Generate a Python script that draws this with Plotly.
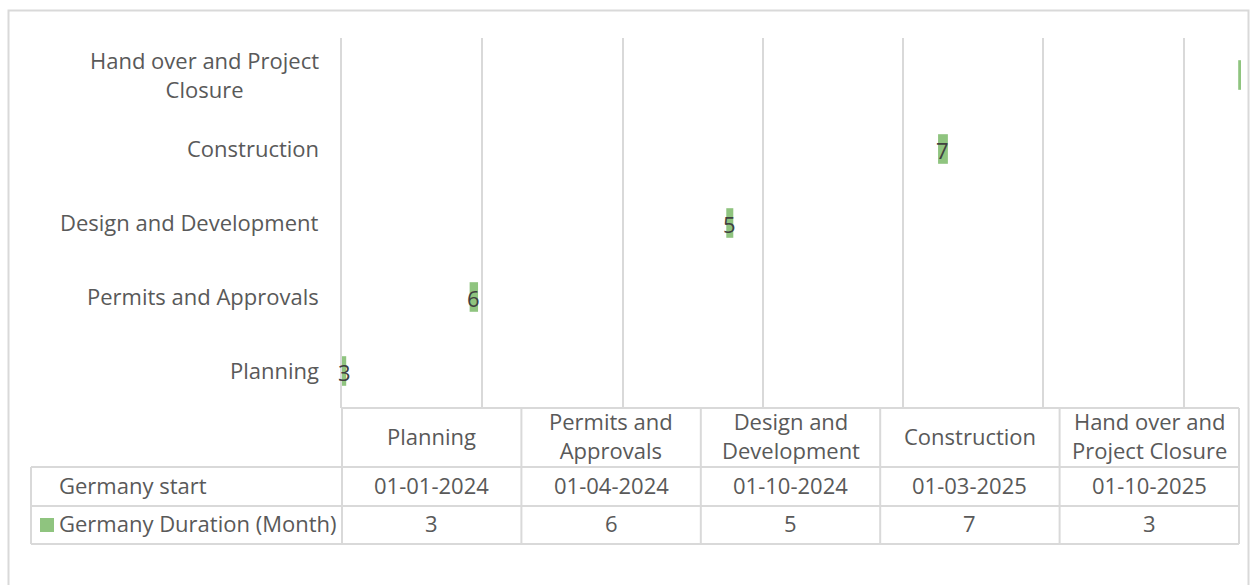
import textwrap
import pandas as pd
import plotly.graph_objects as go

# ---------------- data ----------------
tasks = ["Planning", "Permits and Approvals", "Design and Development",
         "Construction", "Hand over and Project Closure"]
start_dates = ["01-01-2024", "01-04-2024", "01-10-2024", "01-03-2025", "01-10-2025"]
durations = [3, 6, 5, 7, 3]
start_series_name = "Germany start"
duration_series_name = "Germany Duration (Month)"

# ---------------- styling / layout constants ----------------
W, H = 1256, 585
L, R, T, B = 342, 1241, 38, 408          # plot area in pixels
GREEN = "#8fc47f"
GRID = "#d9d9d9"
TXT = "#595959"
LABEL_TXT = "#404040"
FONT = "Open Sans"
FS = 22

# Excel-style day serials
epoch = pd.Timestamp("1899-12-30")
starts = [(pd.to_datetime(d, format="%d-%m-%Y") - epoch).days for d in start_dates]
X_MIN = starts[0]
X_MAX = X_MIN + 641


def pxx(x):
    return (x - L) / (R - L)


def pxy(y):
    return (B - y) / (B - T)


fig = go.Figure()

fig.add_trace(go.Bar(
    y=tasks, x=durations, base=starts, orientation="h",
    marker=dict(color=GREEN, line=dict(width=0)),
    width=0.4, name=duration_series_name, showlegend=False,
    hoverinfo="skip",
))

shapes = []
annotations = []

# data labels centred on bars (only if bar fits within the axis)
for t, s, d in zip(tasks, starts, durations):
    if s + d <= X_MAX:
        annotations.append(dict(
            xref="x", yref="y", x=s + d / 2, y=t, text=str(d), showarrow=False,
            xanchor="center", yanchor="middle", yshift=-1,
            font=dict(family=FONT, size=FS, color=LABEL_TXT),
        ))

# y category labels (centred multi-line, right aligned block)
for t in tasks:
    annotations.append(dict(
        xref="paper", yref="y", x=pxx(321), y=t, xanchor="right", yanchor="middle",
        yshift=1,
        text="<br>".join(textwrap.wrap(t, 22)), align="center", showarrow=False,
        font=dict(family=FONT, size=FS, color=TXT),
    ))

# ---------------- data table ----------------
col_l, col_r = 342, 1239
ncol = len(tasks)
cw = (col_r - col_l) / ncol
row_lines = [408, 467, 506, 544]
left_x = 31

line = dict(color=GRID, width=2)
# horizontal lines
shapes.append(dict(type="line", xref="paper", yref="paper", x0=pxx(col_l), x1=pxx(col_r),
                   y0=pxy(row_lines[0]), y1=pxy(row_lines[0]), line=line))
for yy in row_lines[1:]:
    shapes.append(dict(type="line", xref="paper", yref="paper", x0=pxx(left_x), x1=pxx(col_r),
                       y0=pxy(yy), y1=pxy(yy), line=line))
# vertical lines
for k in range(ncol + 1):
    xx = col_l + k * cw
    shapes.append(dict(type="line", xref="paper", yref="paper", x0=pxx(xx), x1=pxx(xx),
                       y0=pxy(row_lines[0]), y1=pxy(row_lines[-1]), line=line))
shapes.append(dict(type="line", xref="paper", yref="paper", x0=pxx(left_x), x1=pxx(left_x),
                   y0=pxy(row_lines[1]), y1=pxy(row_lines[-1]), line=line))

# header row
for k, t in enumerate(tasks):
    cx = col_l + (k + 0.5) * cw
    annotations.append(dict(
        xref="paper", yref="paper", x=pxx(cx), y=pxy((row_lines[0] + row_lines[1]) / 2 - 2),
        xanchor="center", yanchor="middle", align="center", showarrow=False,
        text="<br>".join(textwrap.wrap(t, 15)),
        font=dict(family=FONT, size=FS, color=TXT),
    ))
# value rows
rows = [(start_series_name, start_dates), (duration_series_name, [str(d) for d in durations])]
for r, (name, vals) in enumerate(rows):
    y0, y1 = row_lines[r + 1], row_lines[r + 2]
    cy = (y0 + y1) / 2
    ty = cy - 2
    annotations.append(dict(
        xref="paper", yref="paper", x=pxx(57), y=pxy(ty), xanchor="left", yanchor="middle",
        text=name, showarrow=False, font=dict(family=FONT, size=FS, color=TXT),
    ))
    for k, v in enumerate(vals):
        cx = col_l + (k + 0.5) * cw
        annotations.append(dict(
            xref="paper", yref="paper", x=pxx(cx), y=pxy(ty), xanchor="center", yanchor="middle",
            text=v, showarrow=False, font=dict(family=FONT, size=FS, color=TXT),
        ))
    if name == duration_series_name:
        shapes.append(dict(type="rect", xref="paper", yref="paper",
                           x0=pxx(40), x1=pxx(54), y0=pxy(cy - 7), y1=pxy(cy + 7),
                           fillcolor=GREEN, line=dict(width=0)))

# outer chart border
shapes.append(dict(type="rect", xref="paper", yref="paper",
                   x0=pxx(8.5), x1=pxx(1248.5), y0=pxy(620), y1=pxy(10.5),
                   line=dict(color=GRID, width=2), fillcolor="rgba(0,0,0,0)", layer="below"))

fig.update_layout(
    width=W, height=H,
    margin=dict(l=L, r=W - R, t=T, b=H - B, pad=0),
    paper_bgcolor="white", plot_bgcolor="white",
    font=dict(family=FONT, size=FS, color=TXT),
    showlegend=False,
    xaxis=dict(range=[X_MIN, X_MAX], tick0=X_MIN, dtick=100, showgrid=True,
               gridcolor=GRID, gridwidth=2, showticklabels=False, zeroline=False,
               showline=False, ticks=""),
    yaxis=dict(categoryorder="array", categoryarray=tasks, range=[-0.5, len(tasks) - 0.5],
               showgrid=False, showticklabels=False, zeroline=False,
               showline=True, linecolor=GRID, linewidth=2, ticks=""),
    shapes=shapes, annotations=annotations,
)

fig.write_html("out.html")
